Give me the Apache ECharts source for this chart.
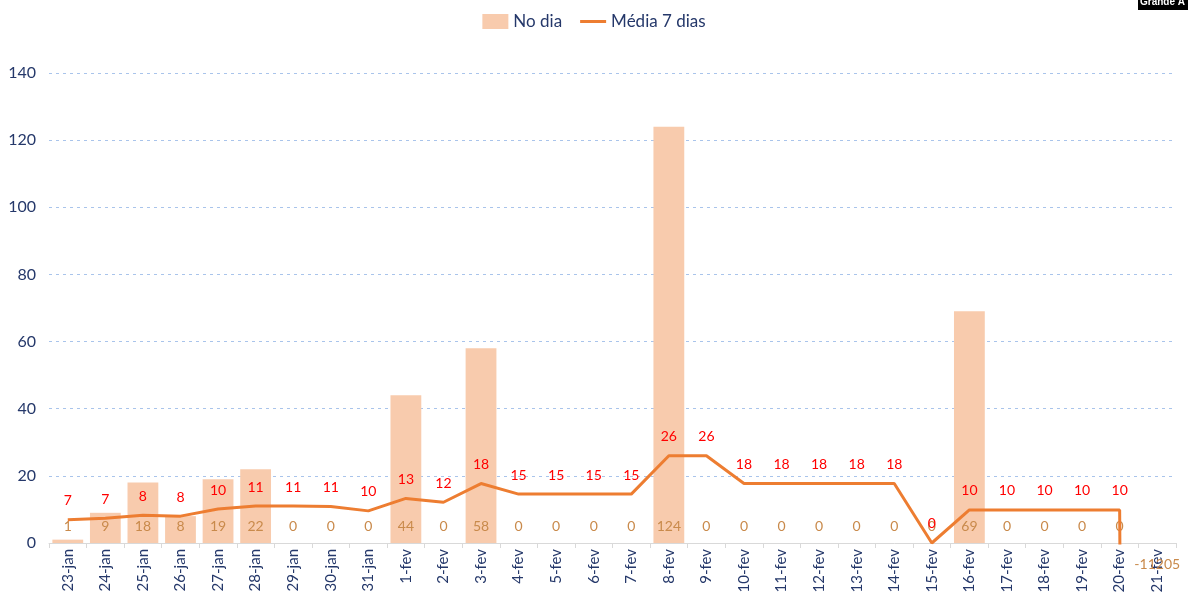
<!DOCTYPE html>
<html>
<head>
<meta charset="utf-8">
<script src="https://cdn.jsdelivr.net/npm/echarts@6/dist/echarts.min.js"></script>
<style>
html,body{margin:0;padding:0;background:#fff;}
#chart{width:1188px;height:608px;}
</style>
</head>
<body>
<div id="chart"></div>
<script>
const categories = ['23-jan','24-jan','25-jan','26-jan','27-jan','28-jan','29-jan','30-jan','31-jan',
  '1-fev','2-fev','3-fev','4-fev','5-fev','6-fev','7-fev','8-fev','9-fev','10-fev','11-fev','12-fev',
  '13-fev','14-fev','15-fev','16-fev','17-fev','18-fev','19-fev','20-fev','21-fev'];
const noDia = [1, 9, 18, 8, 19, 22, 0, 0, 0, 44, 0, 58, 0, 0, 0, 0, 124, 0, 0, 0, 0, 0, 0, 0, 69, 0, 0, 0, 0, -11205];
const media7 = [6.9, 7.4, 8.3, 8.0, 10.1, 11.0, 11.0, 10.86, 9.57, 13.29, 12.14, 17.71, 14.57, 14.57, 14.57, 14.57,
  26.0, 26.0, 17.71, 17.71, 17.71, 17.71, 17.71, 0, 9.86, 9.86, 9.86, 9.86, 9.86, -1590.86];
const yTicks = [0, 20, 40, 60, 80, 100, 120, 140];

const navy = '#25386A';
const font = 'Lato';
const chart = echarts.init(document.getElementById('chart'));
const barData = noDia.map((v) => {
  if (v < 0) {
    return { value: v, label: { position: 'bottom', distance: 14 } };
  }
  return v;
});
chart.setOption({
  animation: false,
  backgroundColor: '#fff',
  legend: {
    top: 8,
    left: 'center',
    itemGap: 18,
    itemWidth: 26,
    itemHeight: 15,
    textStyle: { color: navy, fontSize: 17, fontFamily: font },
    data: [
      { name: 'No dia', icon: 'rect' },
      { name: 'Média 7 dias', icon: 'path://M0,0 L26,0 L26,3 L0,3 Z' }
    ]
  },
  grid: { left: 49, right: 12, top: 73, bottom: 65, containLabel: false },
  xAxis: {
    type: 'category',
    data: categories,
    axisLine: { show: true, lineStyle: { color: '#D9D9D9', width: 1 } },
    axisTick: { show: true, alignWithLabel: false, length: 5, lineStyle: { color: '#D9D9D9' } },
    axisLabel: { rotate: 90, color: navy, fontSize: 15, fontFamily: font, margin: 6, interval: 0 }
  },
  yAxis: {
    type: 'value',
    min: yTicks[0],
    max: yTicks[yTicks.length - 1],
    interval: 20,
    axisLine: { show: false },
    axisTick: { show: false },
    axisLabel: { color: navy, fontSize: 16, fontFamily: font, margin: 13 },
    splitLine: { show: true, lineStyle: { color: '#A9C4EB', type: [3, 4], width: 1 } }
  },
  series: [
    {
      name: 'No dia',
      type: 'bar',
      data: barData,
      barCategoryGap: '18%',
      itemStyle: { color: '#F8CBAD' },
      label: {
        show: true,
        position: 'insideBottom',
        distance: 10,
        color: '#C98A4B',
        fontSize: 14,
        fontFamily: font
      }
    },
    {
      name: 'Média 7 dias',
      type: 'line',
      data: media7,
      symbol: 'circle',
      symbolSize: 0.1,
      showSymbol: true,
      clip: true,
      lineStyle: { color: '#ED7D31', width: 3 },
      itemStyle: { color: '#ED7D31' },
      label: {
        show: true,
        position: 'top',
        distance: 12,
        color: '#FF0000',
        fontSize: 14,
        fontFamily: font,
        formatter: p => Math.round(p.value)
      }
    }
  ],
  graphic: [
    {
      type: 'rect', left: 1138, top: 0,
      shape: { width: 50, height: 10 },
      style: { fill: '#000' }
    },
    {
      type: 'text', left: 1140, top: -3,
      style: { text: 'Grande A', fill: '#fff', font: 'bold 10px Liberation Sans' }
    }
  ]
});
</script>
</body>
</html>
